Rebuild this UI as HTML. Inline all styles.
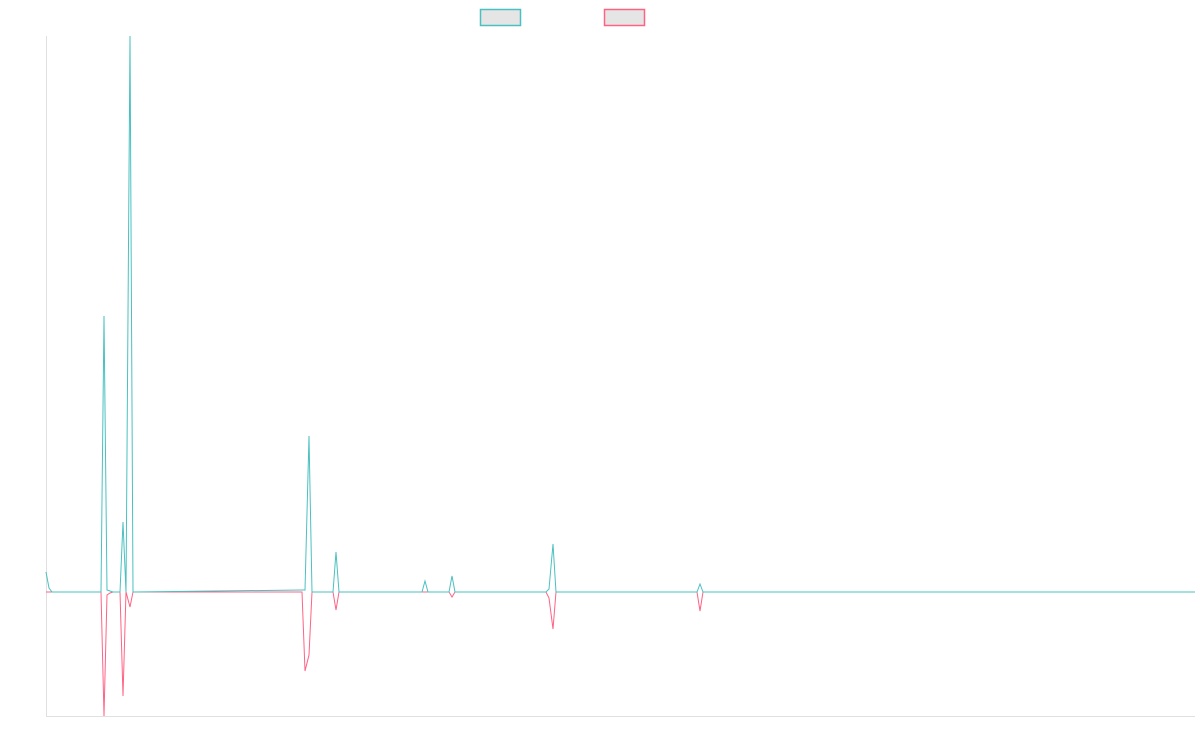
<!DOCTYPE html>
<html><head><meta charset="utf-8"><style>
html,body{margin:0;padding:0;background:#fff;}
svg{display:block;font-family:"Liberation Sans",sans-serif;}
</style></head>
<body>
<svg id="chart" width="1200" height="750">
  <rect x="480.5" y="9.5" width="40" height="16" fill="#e5e5e5" stroke="#4bc0c0" stroke-width="1.5"/>
  <rect x="604.5" y="9.5" width="40" height="16" fill="#e5e5e5" stroke="#ff6384" stroke-width="1.5"/>
  <line x1="46.5" y1="36" x2="46.5" y2="716" stroke="#e0e0e0"/>
  <line x1="46" y1="716.5" x2="1195" y2="716.5" stroke="#e0e0e0"/>
  <g id="plot"></g>
</svg>
<script>
const tealX = [46,49,52,101,104,107,110,113,120,123,126,130,133,302,305,309,312,333,336,339,422,425,428,449,452,455,546,549,553,556,697,700,703,1195];
const tealY = [20,4,0,0,276,2,1,0,0,70,0,556,0,2,2,156,0,0,40,0,0,11,0,0,16,0,0,3,48,0,0,8,0,0];
const redX = [46,101,104,107,110,113,120,123,126,130,133,302,305,309,312,333,336,339,449,452,455,546,549,553,556,697,700,703,1195];
const redY = [0,0,-124,-3,-1,0,0,-104,0,-15,0,0,-79,-63,0,0,-18,0,0,-5,0,0,-6,-37,0,0,-19,0,0];
const xMin = 46, xMax = 1195, yMin = -124, yMax = 556;
const plotLeft = 46, plotRight = 1195, plotTop = 36, plotBottom = 716;
function sx(v){return plotLeft + (v - xMin) / (xMax - xMin) * (plotRight - plotLeft);}
function sy(v){return plotBottom - (v - yMin) / (yMax - yMin) * (plotBottom - plotTop);}
const plotGroup = document.getElementById('plot');
function drawLine(xs, ys, color, name){
  const p = document.createElementNS('http://www.w3.org/2000/svg','path');
  let d = '';
  xs.forEach((x,i)=>{ d += (i?'L':'M') + sx(x).toFixed(2) + ',' + sy(ys[i]).toFixed(2); });
  p.setAttribute('d', d);
  p.setAttribute('fill','none');
  p.setAttribute('stroke', color);
  p.setAttribute('stroke-width','1');
  
  
  plotGroup.appendChild(p);
}
drawLine(redX, redY, '#ff6384', 'series-red-line');
drawLine(tealX, tealY, '#4bc0c0', 'series-teal-line');
</script>
</body></html>
